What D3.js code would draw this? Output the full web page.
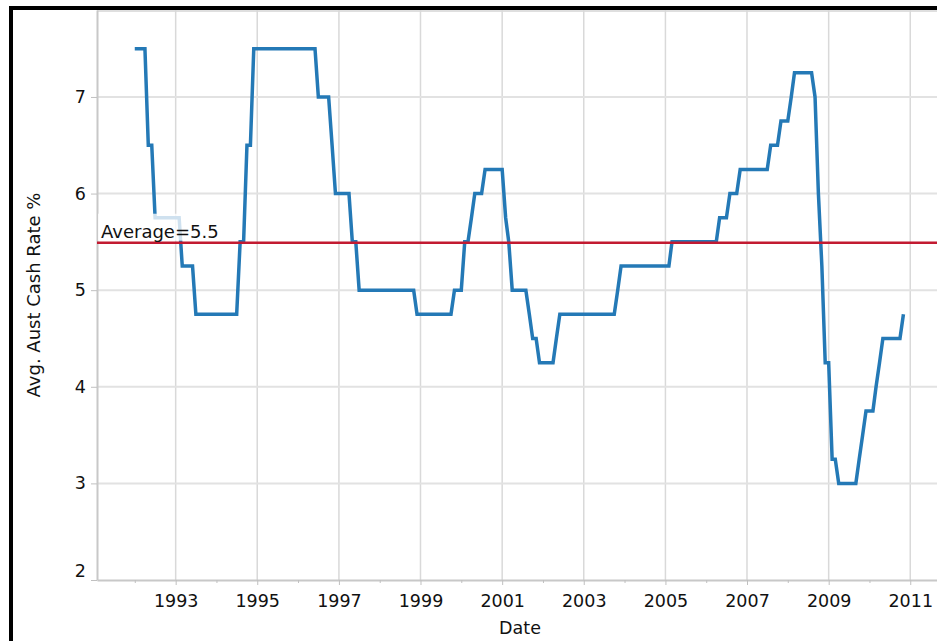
<!DOCTYPE html>
<html>
<head>
<meta charset="utf-8">
<script src="https://cdn.jsdelivr.net/npm/d3@7"></script>
<style>
  body { margin: 0; background: #fff; }
  svg { display: block; }
  text { font-family: "DejaVu Sans", Verdana, sans-serif; fill: #111; }
</style>
</head>
<body>
<svg id="chart" width="937" height="641"></svg>
<script>
// Month-end Australian cash rate target (%), one row per year, January first.
const rateYears = [1992, 1993, 1994, 1995, 1996, 1997, 1998, 1999, 2000, 2001,
                   2002, 2003, 2004, 2005, 2006, 2007, 2008, 2009, 2010];
const cashRate = [
  7.5, 7.5, 7.5, 7.5, 6.5, 6.5, 5.75, 5.75, 5.75, 5.75, 5.75, 5.75,     // 1992
  5.75, 5.75, 5.25, 5.25, 5.25, 5.25, 4.75, 4.75, 4.75, 4.75, 4.75, 4.75, // 1993
  4.75, 4.75, 4.75, 4.75, 4.75, 4.75, 4.75, 5.5, 5.5, 6.5, 6.5, 7.5,    // 1994
  7.5, 7.5, 7.5, 7.5, 7.5, 7.5, 7.5, 7.5, 7.5, 7.5, 7.5, 7.5,           // 1995
  7.5, 7.5, 7.5, 7.5, 7.5, 7.5, 7.0, 7.0, 7.0, 7.0, 6.5, 6.0,           // 1996
  6.0, 6.0, 6.0, 6.0, 5.5, 5.5, 5.0, 5.0, 5.0, 5.0, 5.0, 5.0,           // 1997
  5.0, 5.0, 5.0, 5.0, 5.0, 5.0, 5.0, 5.0, 5.0, 5.0, 5.0, 4.75,          // 1998
  4.75, 4.75, 4.75, 4.75, 4.75, 4.75, 4.75, 4.75, 4.75, 4.75, 5.0, 5.0, // 1999
  5.0, 5.5, 5.5, 5.75, 6.0, 6.0, 6.0, 6.25, 6.25, 6.25, 6.25, 6.25,     // 2000
  6.25, 5.75, 5.5, 5.0, 5.0, 5.0, 5.0, 5.0, 4.75, 4.5, 4.5, 4.25,       // 2001
  4.25, 4.25, 4.25, 4.25, 4.5, 4.75, 4.75, 4.75, 4.75, 4.75, 4.75, 4.75, // 2002
  4.75, 4.75, 4.75, 4.75, 4.75, 4.75, 4.75, 4.75, 4.75, 4.75, 5.0, 5.25, // 2003
  5.25, 5.25, 5.25, 5.25, 5.25, 5.25, 5.25, 5.25, 5.25, 5.25, 5.25, 5.25, // 2004
  5.25, 5.25, 5.5, 5.5, 5.5, 5.5, 5.5, 5.5, 5.5, 5.5, 5.5, 5.5,         // 2005
  5.5, 5.5, 5.5, 5.5, 5.75, 5.75, 5.75, 6.0, 6.0, 6.0, 6.25, 6.25,      // 2006
  6.25, 6.25, 6.25, 6.25, 6.25, 6.25, 6.25, 6.5, 6.5, 6.5, 6.75, 6.75,  // 2007
  6.75, 7.0, 7.25, 7.25, 7.25, 7.25, 7.25, 7.25, 7.0, 6.0, 5.25, 4.25,  // 2008
  4.25, 3.25, 3.25, 3.0, 3.0, 3.0, 3.0, 3.0, 3.0, 3.25, 3.5, 3.75,      // 2009
  3.75, 3.75, 4.0, 4.25, 4.5, 4.5, 4.5, 4.5, 4.5, 4.5, 4.75              // 2010 (to Nov)
];

const yTicks = [2, 3, 4, 5, 6, 7];
const xLabelYears = [1993, 1995, 1997, 1999, 2001, 2003, 2005, 2007, 2009, 2011];
const xMinorYears = [1992, 1994, 1996, 1998, 2000, 2002, 2004, 2006, 2008, 2010];

const xTitle = "Date";
const yTitle = "Avg. Aust Cash Rate %";

// One point per month, dated at the first of the month.
const months = d3.timeMonth.range(new Date(rateYears[0], 0, 1),
                                  new Date(rateYears[rateYears.length - 1], 11, 1));
const series = months.map((d, i) => ({ date: d, value: cashRate[i] }));
const average = d3.mean(cashRate);

const svg = d3.select("#chart");
const plot = { left: 97, right: 945, top: 10, bottom: 580 };

const x = d3.scaleTime()
  .domain([new Date(1991, 0, 28), new Date(2011, 10, 8)])
  .range([plot.left, plot.right]);
const y = d3.scaleLinear()
  .domain([2, 7.9])
  .range([plot.bottom, plot.top]);

// outer frame
svg.append("rect")
  .attr("x", 11).attr("y", 8)
  .attr("width", 960).attr("height", 700)
  .attr("fill", "none").attr("stroke", "#000").attr("stroke-width", 4);

// plot top edge
svg.append("line")
  .attr("x1", plot.left).attr("x2", 937)
  .attr("y1", 11).attr("y2", 11)
  .attr("stroke", "#d4d4d4").attr("stroke-width", 1.5);

// gridlines
const grid = svg.append("g");
grid.selectAll("line.v")
  .data(xLabelYears)
  .join("line")
  .attr("class", "v")
  .attr("x1", d => x(new Date(d, 0, 1))).attr("x2", d => x(new Date(d, 0, 1)))
  .attr("y1", plot.top).attr("y2", plot.bottom)
  .attr("stroke", "#d9d9d9").attr("stroke-width", 1.5);
grid.selectAll("line.h")
  .data(yTicks.filter(v => v > 2))
  .join("line")
  .attr("class", "h")
  .attr("x1", plot.left).attr("x2", plot.right)
  .attr("y1", d => y(d)).attr("y2", d => y(d))
  .attr("stroke", "#e2e2e2").attr("stroke-width", 2);

// axes
const xAxis = svg.append("g")
  .attr("transform", `translate(0,${plot.bottom})`)
  .call(d3.axisBottom(x)
    .tickValues(xLabelYears.map(d => new Date(d, 0, 1)))
    .tickFormat(d3.timeFormat("%Y"))
    .tickSize(5).tickSizeOuter(0).tickPadding(10));
const xMinor = svg.append("g")
  .attr("transform", `translate(0,${plot.bottom})`)
  .call(d3.axisBottom(x)
    .tickValues(xMinorYears.map(d => new Date(d, 0, 1)))
    .tickFormat("")
    .tickSize(3).tickSizeOuter(0));
xMinor.select(".domain").remove();

const yAxis = svg.append("g")
  .attr("transform", `translate(${plot.left},0)`)
  .call(d3.axisLeft(y)
    .tickValues(yTicks)
    .tickFormat(d3.format("d"))
    .tickSize(6).tickSizeOuter(0).tickPadding(5));

[xAxis, xMinor, yAxis].forEach(g => {
  g.selectAll(".domain").attr("stroke", "#c8c8c8").attr("stroke-width", 2);
  g.selectAll(".tick line").attr("stroke", "#c0c0c0").attr("stroke-width", 1);
  g.selectAll(".tick text")
    .attr("font-size", 17.5)
    .attr("font-family", "'DejaVu Sans', Verdana, sans-serif")
    .attr("fill", "#111");
});
// lowest value label sits just above the date axis
yAxis.selectAll(".tick text").filter(d => d === yTicks[0]).attr("dy", "-0.22em");

// rate line
const line = d3.line()
  .x(d => x(d.date))
  .y(d => y(d.value));
svg.append("path")
  .datum(series)
  .attr("d", line)
  .attr("fill", "none")
  .attr("stroke", "#2479b6")
  .attr("stroke-width", 3.5)
  .attr("stroke-linejoin", "miter");

// average reference line
svg.append("line")
  .attr("x1", plot.left).attr("x2", plot.right)
  .attr("y1", y(average)).attr("y2", y(average))
  .attr("stroke", "#c21a31").attr("stroke-width", 2.5);

// average label with translucent backing
const label = svg.append("g");
label.append("rect")
  .attr("x", plot.left + 1).attr("y", y(average) - 29)
  .attr("width", 125).attr("height", 27)
  .attr("fill", "#fff").attr("fill-opacity", 0.78);
label.append("text")
  .attr("x", 101).attr("y", y(average) - 5)
  .attr("font-size", 18)
  .text("Average=" + d3.format(".1f")(average));

// axis titles
svg.append("text")
  .attr("x", 520).attr("y", 634)
  .attr("text-anchor", "middle")
  .attr("font-size", 17.5)
  .text(xTitle);
svg.append("text")
  .attr("transform", `translate(40,${(plot.top + plot.bottom) / 2}) rotate(-90)`)
  .attr("text-anchor", "middle")
  .attr("font-size", 18)
  .text(yTitle);
</script>
</body>
</html>
